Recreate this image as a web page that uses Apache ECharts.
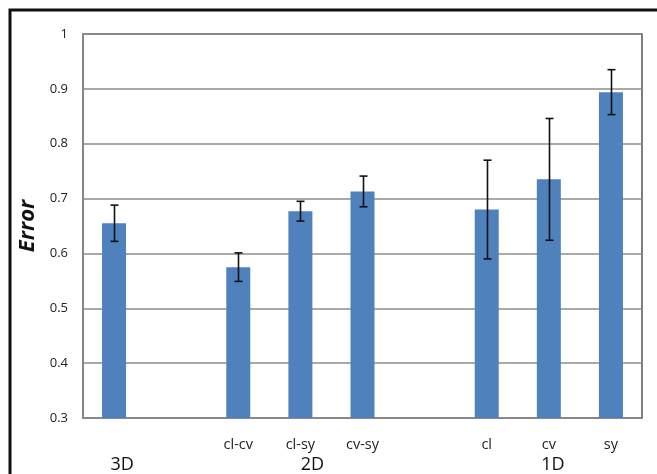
<!DOCTYPE html>
<html>
<head>
<meta charset="utf-8">
<script src="https://cdn.jsdelivr.net/npm/echarts@6/dist/echarts.min.js"></script>
<style>
html,body{margin:0;padding:0;background:#fff;}
#chart{width:657px;height:474px;}
</style>
</head>
<body>
<div id="chart"></div>
<script>
// Data
var categories = ['3D', '', 'cl-cv', 'cl-sy', 'cv-sy', ' ', 'cl', 'cv', 'sy'];
var catLabels = ['', '', 'cl-cv', 'cl-sy', 'cv-sy', '', 'cl', 'cv', 'sy'];
var groupLabels = ['3D', '', '', '2D', '', '', '', '1D', ''];
var errorValues = [0.655, null, 0.575, 0.677, 0.713, null, 0.680, 0.735, 0.894];
var errorHalf = [0.033, null, 0.026, 0.018, 0.028, null, 0.090, 0.111, 0.041];
var yTicks = [0.3, 0.4, 0.5, 0.6, 0.7, 0.8, 0.9, 1];

var errData = [];
for (var i = 0; i < categories.length; i++) {
  if (errorValues[i] != null) {
    errData.push([i, errorValues[i] - errorHalf[i], errorValues[i] + errorHalf[i]]);
  }
}

var chart = echarts.init(document.getElementById('chart'), null, {renderer: 'canvas'});
var font = '"Open Sans", "Noto Sans", sans-serif';
var groupPad = [16, 0, 0, 24, 0, 0, 0, 8, 0];
chart.setOption({
  animation: false,
  backgroundColor: '#fff',
  grid: {left: 83, top: 34, right: 15, bottom: 55, show: true, borderColor: '#555', borderWidth: 1.5, backgroundColor: 'transparent'},
  xAxis: [{
    type: 'category',
    data: categories,
    axisLine: {show: true, lineStyle: {color: '#888', width: 1.5}},
    axisTick: {show: false},
    axisLabel: {
      interval: 0, margin: 19, color: '#222', fontSize: 14.5, fontFamily: font,
      formatter: function (v, idx) { return catLabels[idx]; }
    }
  }, {
    type: 'category',
    data: categories,
    position: 'bottom',
    offset: 0,
    axisLine: {show: false},
    axisTick: {show: false},
    axisLabel: {
      interval: 0, margin: 38, color: '#111', fontSize: 18, fontFamily: font,
      formatter: function (v, idx) { return groupLabels[idx] ? '{p' + idx + '|' + groupLabels[idx] + '}' : ''; },
      rich: {
        p0: {padding: [0, 0, 0, groupPad[0]], fontSize: 18, fontFamily: font, color: '#111'},
        p3: {padding: [0, 0, 0, groupPad[3]], fontSize: 18, fontFamily: font, color: '#111'},
        p7: {padding: [0, 0, 0, groupPad[7]], fontSize: 18, fontFamily: font, color: '#111'}
      }
    }
  }],
  yAxis: {
    type: 'value',
    min: 0.3, max: 1, interval: 0.1,
    name: 'Error',
    nameLocation: 'middle',
    nameGap: 37,
    nameTextStyle: {fontSize: 22, fontWeight: 'bold', fontStyle: 'italic', color: '#111', fontFamily: font},
    axisLine: {show: true, lineStyle: {color: '#888', width: 1.5}},
    axisTick: {show: false},
    splitLine: {show: true, lineStyle: {color: '#8c8c8c', width: 1.5}},
    axisLabel: {
      color: '#222', fontSize: 13, fontFamily: font, margin: 15,
      formatter: function (v) { return String(+v.toFixed(1)); }
    }
  },
  series: [{
    type: 'bar',
    data: errorValues,
    barWidth: 24,
    itemStyle: {color: '#4F81BD'},
    z: 2
  }, {
    type: 'custom',
    data: errData,
    z: 5,
    renderItem: function (params, api) {
      var x = api.value(0);
      var lo = api.coord([x, api.value(1)]);
      var hi = api.coord([x, api.value(2)]);
      var cx = Math.round(lo[0]) + 0.5;
      var cap = 4;
      var style = {stroke: '#111', lineWidth: 1.6, fill: null};
      return {
        type: 'group',
        children: [
          {type: 'line', shape: {x1: cx, y1: lo[1], x2: cx, y2: hi[1]}, style: style},
          {type: 'line', shape: {x1: cx - cap, y1: lo[1], x2: cx + cap, y2: lo[1]}, style: style},
          {type: 'line', shape: {x1: cx - cap, y1: hi[1], x2: cx + cap, y2: hi[1]}, style: style}
        ]
      };
    }
  }],
  graphic: [{
    type: 'rect',
    shape: {x: 10, y: 10, width: 700, height: 500},
    style: {fill: null, stroke: '#111', lineWidth: 3},
    silent: true
  }]
});
</script>
</body>
</html>
